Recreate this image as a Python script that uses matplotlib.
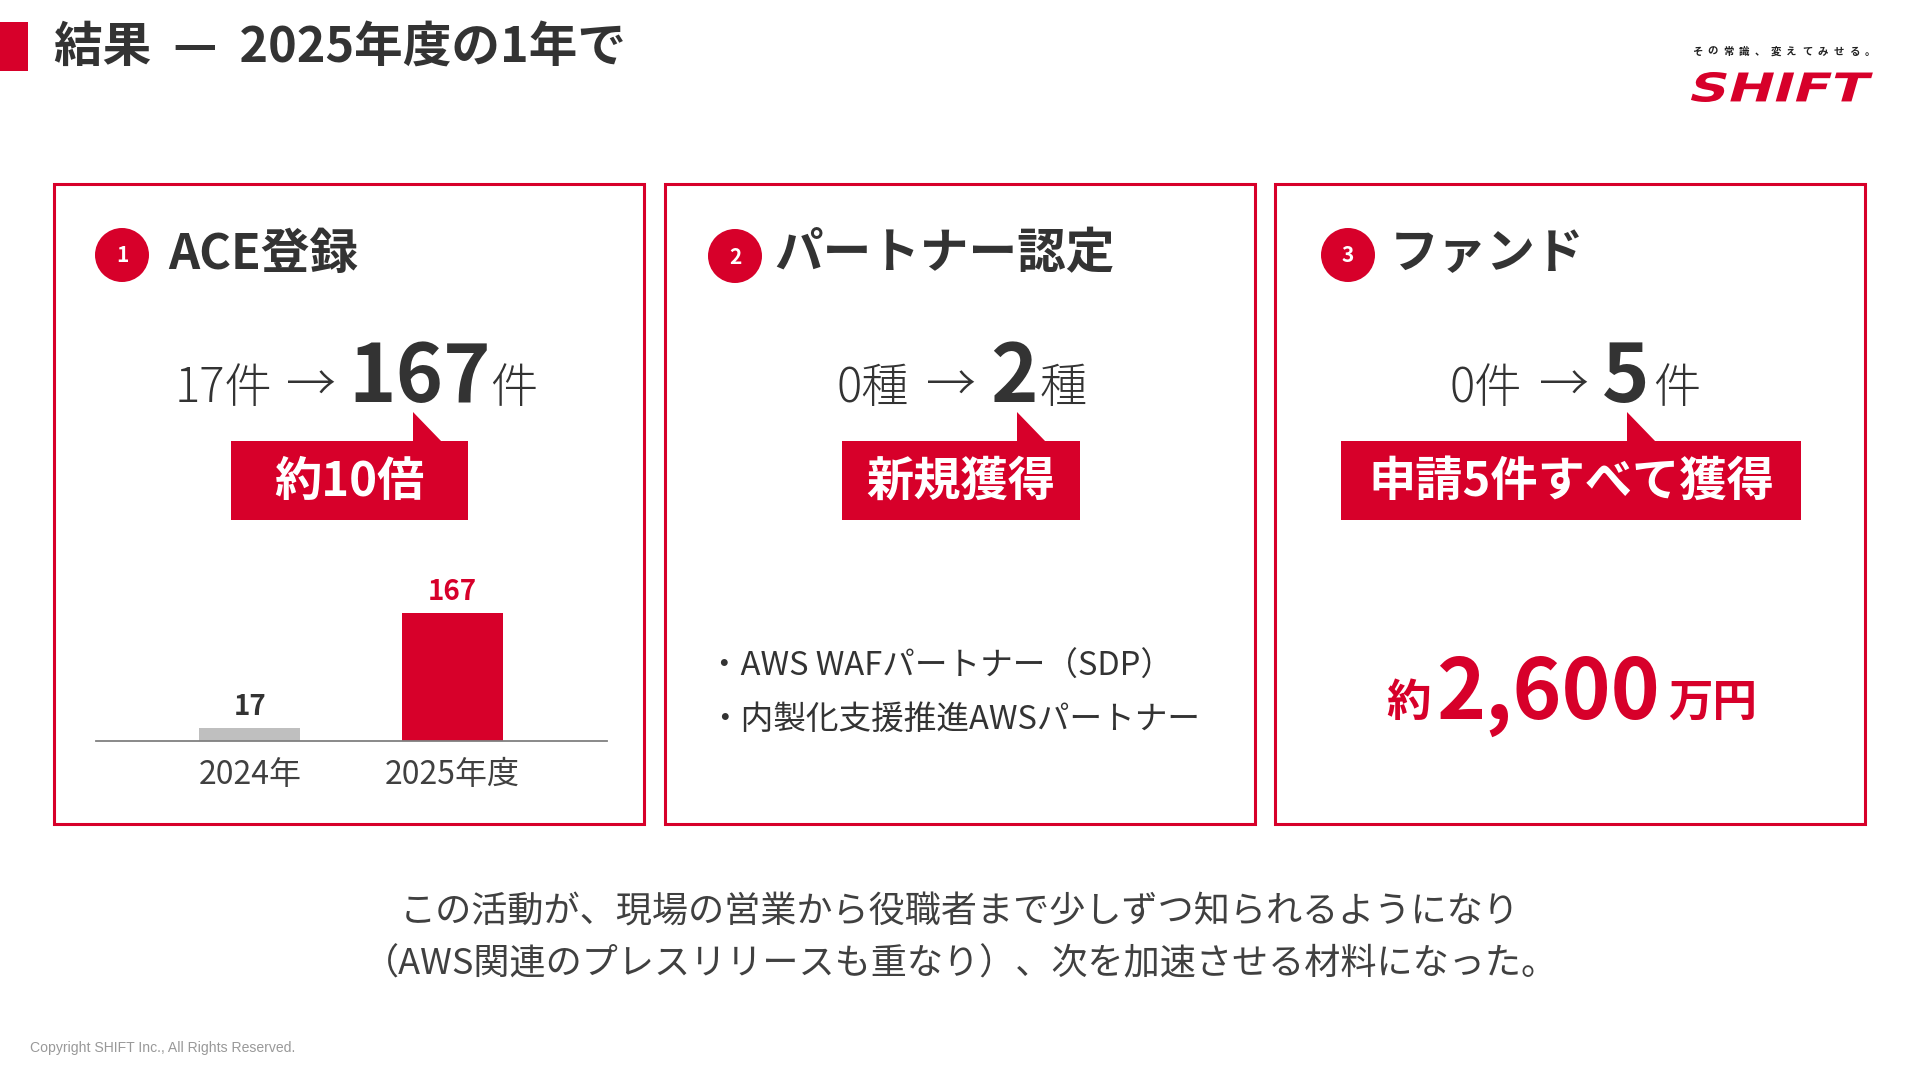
#!/usr/bin/env python3
"""
結果スライド（2025年度の1年で）の再現
"""

import matplotlib
matplotlib.use('Agg')
import matplotlib.pyplot as plt
from matplotlib.patches import Rectangle, Circle, Polygon, PathPatch
from matplotlib.textpath import TextPath
from matplotlib.font_manager import FontProperties
from matplotlib.transforms import Affine2D
import numpy as np

plt.rcParams['font.family'] = ['Noto Sans CJK JP', 'DejaVu Sans']

RED = '#D7002A'
DARK = '#333333'
TXT = '#404040'
BAR_GRAY = '#BFBFBF'

# データ
title = '結果  —  2025年度の1年で'
panel_titles = ['ACE登録', 'パートナー認定', 'ファンド']
before_texts = ['17件', '0種', '0件']
after_values = ['167', '2', '5']
after_units = ['件', '種', '件']
callouts = ['約10倍', '新規獲得', '申請5件すべて獲得']

years = ['2024年', '2025年度']
ace_counts = [17, 167]

partner_items = ['・AWS WAFパートナー（SDP）', '・内製化支援推進AWSパートナー']
fund_prefix = '約'
fund_amount = '2,600'
fund_unit = '万円'

message = ['この活動が、現場の営業から役職者まで少しずつ知られるようになり',
           '（AWS関連のプレスリリースも重なり）、次を加速させる材料になった。']
tagline = 'その常識、変えてみせる。'
copyright_text = 'Copyright SHIFT Inc., All Rights Reserved.'


def main():
    fig = plt.figure(figsize=(19.2, 10.8), dpi=100)
    fig.patch.set_facecolor('white')

    # ピクセル座標のオーバーレイ
    ax0 = fig.add_axes([0, 0, 1, 1])
    ax0.set_xlim(0, 1920)
    ax0.set_ylim(1080, 0)
    ax0.axis('off')

    # タイトル
    ax0.add_patch(Rectangle((0, 22), 28, 49, color=RED, lw=0))
    ax0.text(54, 47, title, fontsize=35, fontweight='bold', color=DARK,
             va='center', ha='left')

    # ロゴ
    xs = np.linspace(1697, 1870, len(tagline))
    for ch, x in zip(tagline, xs):
        ax0.text(x, 52, ch, fontsize=7.5, fontweight='bold', color='#222222',
                 ha='center', va='center')
    fp = FontProperties(family='DejaVu Sans', weight='bold')
    tp = TextPath((0, 0), 'SHIFT', size=100, prop=fp)
    bb = tp.get_extents()
    h = 30
    k = np.tan(np.radians(16))
    sx = (183 - k * h) / bb.width
    sy = h / bb.height
    tr = (Affine2D().translate(-bb.x0, -bb.y0).scale(sx, sy)
          .skew(np.arctan(k), 0).scale(1, -1).translate(1690, 102))
    ax0.add_patch(PathPatch(tr.transform_path(tp), color=RED, lw=0))

    # パネル
    panel_x = [54, 665, 1275]
    panel_w = 590
    panel_top, panel_bottom = 184, 824
    circle_c = [(122, 255), (735, 256), (1348, 255)]
    head_x = [168, 774, 1390]
    before_right = [272, 909, 1522]
    arrow_c = [311, 951, 1564]
    num_center = [420, 1014, 1626]
    unit_left = [490, 1039, 1653]
    call_x = [(231, 468), (842, 1080), (1341, 1801)]
    apex_x = [413, 1017, 1627]

    for i in range(3):
        ax0.add_patch(Rectangle((panel_x[i], panel_top), panel_w,
                                panel_bottom - panel_top, fill=False,
                                edgecolor=RED, lw=2.2))
        cx, cy = circle_c[i]
        ax0.add_patch(Circle((cx, cy), 27, color=RED, lw=0))
        ax0.text(cx, cy + 1, str(i + 1), fontsize=15, fontweight='bold',
                 color='white', ha='center', va='center')
        ax0.text(head_x[i], 254, panel_titles[i], fontsize=35,
                 fontweight='bold', color=DARK, ha='left', va='center')

        # 数値の変化
        base = 402
        ax0.text(before_right[i], base, before_texts[i], fontsize=34,
                 fontweight='light', color=DARK, ha='right', va='baseline')
        ax0.text(arrow_c[i], base, '→', fontsize=36,
                 fontweight='light', color=DARK, ha='center', va='baseline')
        ax0.text(num_center[i], base, after_values[i], fontsize=58,
                 fontweight='bold', color=DARK, ha='center', va='baseline')
        ax0.text(unit_left[i], base, after_units[i], fontsize=34,
                 fontweight='light', color=DARK, ha='left', va='baseline')

        # 吹き出し
        x0, x1 = call_x[i]
        ax0.add_patch(Rectangle((x0, 441), x1 - x0, 79, color=RED, lw=0))
        ax = apex_x[i]
        ax0.add_patch(Polygon([(ax, 412), (ax, 442), (ax + 29, 442)],
                              closed=True, color=RED, lw=0))
        ax0.text((x0 + x1) / 2, 482, callouts[i], fontsize=34,
                 fontweight='bold', color='white', ha='center', va='center')

    # 棒グラフ（ACE登録）
    axb = fig.add_axes([96 / 1920, (1080 - 741) / 1080,
                        (607 - 96) / 1920, (741 - 560) / 1080])
    pos = np.arange(len(years))
    axb.bar(pos, ace_counts, width=0.5, color=[BAR_GRAY, RED])
    axb.set_xlim(-0.762, 1.767)
    axb.set_ylim(0, 236)
    for s in ['top', 'right', 'left']:
        axb.spines[s].set_visible(False)
    axb.spines['bottom'].set_color('#808080')
    axb.spines['bottom'].set_linewidth(1.3)
    axb.set_yticks([])
    axb.set_xticks(pos)
    axb.set_xticklabels(years, fontsize=23, color=TXT)
    axb.tick_params(axis='x', length=0, pad=13)
    axb.patch.set_alpha(0)
    label_colors = [DARK, RED]
    for p, v, c in zip(pos, ace_counts, label_colors):
        axb.annotate(str(v), xy=(p, v), xytext=(0, 5),
                     textcoords='offset points', ha='center', va='bottom',
                     fontsize=20, fontweight='bold', color=c)

    # パートナー認定の内訳
    for j, item in enumerate(partner_items):
        ax0.text(708, 667 + j * 53, item, fontsize=23.5, color=DARK,
                 ha='left', va='center')

    # ファンド金額
    ax0.text(1431, 716, fund_prefix, fontsize=32, fontweight='bold',
             color=RED, ha='right', va='baseline')
    ax0.text(1548, 719, fund_amount, fontsize=60, fontweight='bold',
             color=RED, ha='center', va='baseline')
    ax0.text(1668, 716, fund_unit, fontsize=32, fontweight='bold',
             color=RED, ha='left', va='baseline')

    # メッセージ
    for j, line in enumerate(message):
        ax0.text(960, 913 + j * 51, line, fontsize=26, color=TXT,
                 ha='center', va='center')

    ax0.text(30, 1048, copyright_text, fontsize=10.1, color='#999999',
             family='Liberation Sans', ha='left', va='center')

    fig.savefig('out.png', dpi=100)
    plt.close(fig)


if __name__ == '__main__':
    main()
